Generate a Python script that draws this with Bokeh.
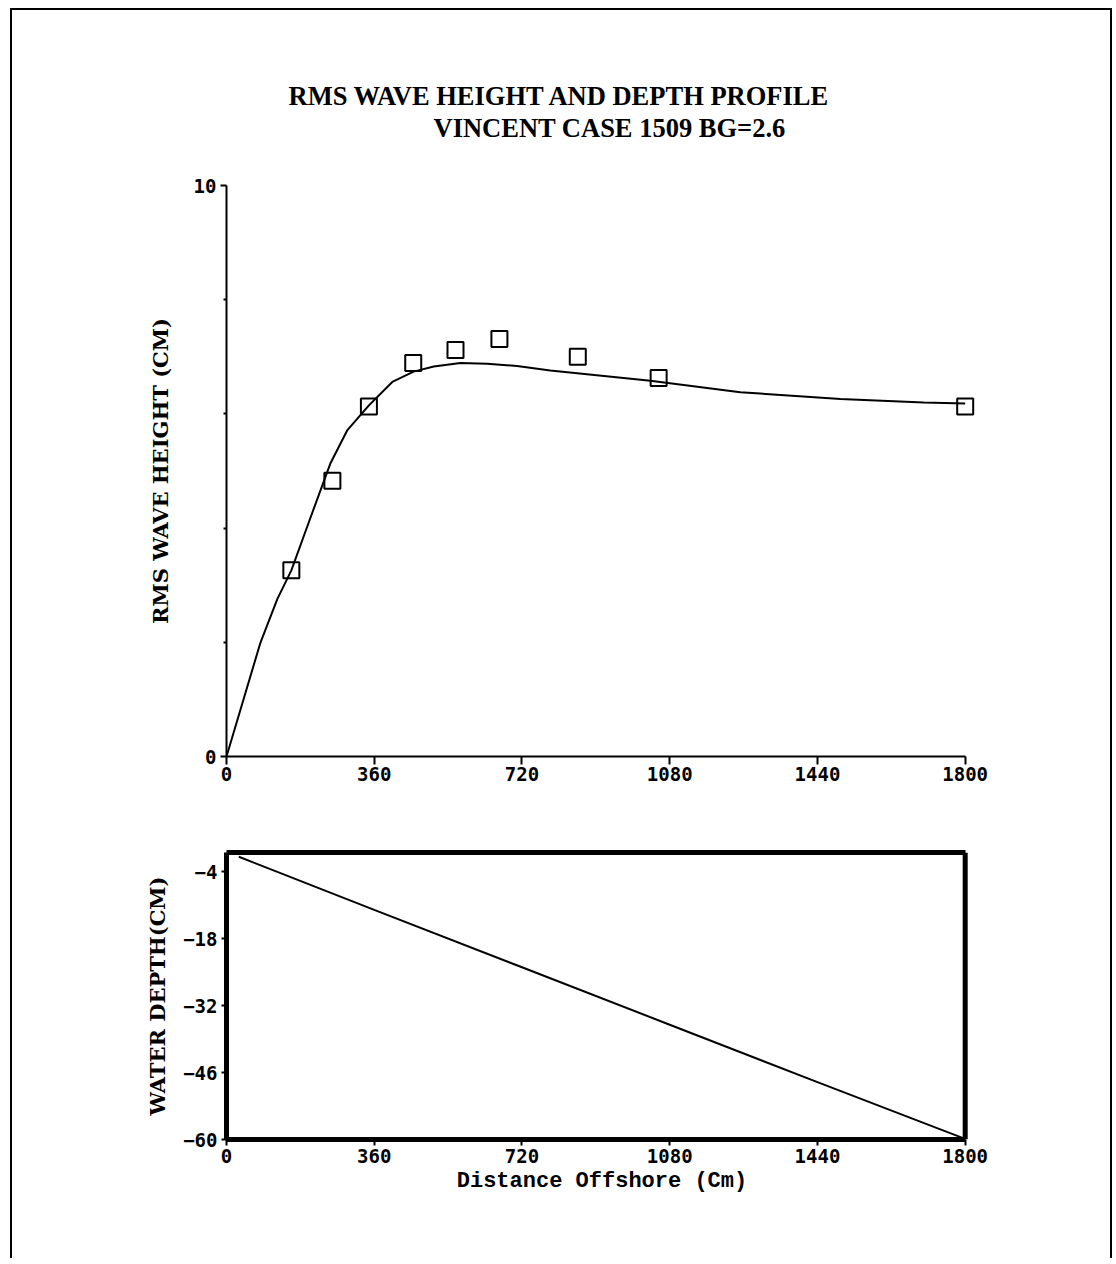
from bokeh.plotting import figure
from bokeh.models import Range1d, FixedTicker, Title, Spacer, LinearAxis, Span
from bokeh.layouts import column, row
from bokeh.embed import file_html
from bokeh.resources import INLINE

# ---- text ----
title_line1 = "RMS WAVE HEIGHT AND DEPTH PROFILE"
title_line2 = "VINCENT CASE 1509 BG=2.6"
height_label = "RMS WAVE HEIGHT (CM)"
depth_label = "WATER DEPTH(CM)"
x_label = "Distance Offshore (Cm)"

# ---- ticks ----
x_ticks = [0, 360, 720, 1080, 1440, 1800]
height_ticks = [0, 10]
height_minor_ticks = [2, 4, 6, 8]
depth_ticks = [-60, -46, -32, -18, -4]

# ---- data ----
model_x = [0, 83, 124, 158, 205, 253, 294, 347, 404, 456, 505, 570, 635, 708,
           789, 1033, 1252, 1496, 1699, 1800]
model_h = [0.0, 2.0, 2.76, 3.26, 4.19, 5.13, 5.71, 6.15, 6.56, 6.74, 6.83, 6.89,
           6.88, 6.84, 6.76, 6.58, 6.38, 6.26, 6.20, 6.18]

meas_x = [158, 258, 347, 455, 558, 665, 856, 1053, 1800]
meas_h = [3.26, 4.83, 6.13, 6.89, 7.12, 7.31, 7.00, 6.63, 6.13]

depth_x = [30, 360, 720, 1080, 1440, 1795]
depth_z = [-0.9, -12.0, -24.0, -36.0, -48.0, -59.7]

X_MAX = 1800
X_VIEW = 1830   # a little room past the last station so its marker is not clipped

SERIF = "Liberation Serif"
LSERIF = "DejaVu Serif"
MONO = "DejaVu Sans Mono"
CMONO = "Liberation Mono"

W = 1098
BL, BR = 214, 133


def style_tick_labels(ax):
    ax.major_label_text_font = MONO
    ax.major_label_text_font_style = "bold"
    ax.major_label_text_font_size = "19px"
    ax.major_label_text_color = "black"


# ---------------- top plot ----------------
p1 = figure(width=W, height=800, output_backend="svg", toolbar_location=None,
            x_range=Range1d(0, X_VIEW), y_range=Range1d(0, 10),
            min_border_left=BL, min_border_right=BR,
            min_border_top=175, min_border_bottom=54)
p1.outline_line_color = None
p1.grid.visible = False
p1.background_fill_color = "white"
p1.border_fill_color = "white"
p1.title.visible = False

p1.line(model_x, model_h, line_color="black", line_width=2)
p1.scatter(meas_x, meas_h, marker="square", size=16, fill_color=None,
           line_color="black", line_width=2)

xa = p1.xaxis[0]
xa.bounds = (0, X_MAX)
xa.ticker = FixedTicker(ticks=x_ticks)
xa.axis_line_width = 2
xa.axis_line_color = "black"
xa.major_tick_out = 8
xa.major_tick_in = 0
xa.major_tick_line_width = 2
xa.major_tick_line_color = "black"
xa.minor_tick_line_color = None
xa.major_label_standoff = 2
style_tick_labels(xa)

ya = p1.yaxis[0]
ya.ticker = FixedTicker(ticks=height_ticks, minor_ticks=height_minor_ticks)
ya.axis_line_width = 2
ya.axis_line_color = "black"
ya.major_tick_out = 6
ya.major_tick_in = 0
ya.major_tick_line_width = 2
ya.major_tick_line_color = "black"
ya.minor_tick_out = 3
ya.minor_tick_in = 0
ya.minor_tick_line_width = 2
ya.minor_tick_line_color = "black"
ya.major_label_standoff = 4
style_tick_labels(ya)
ya.axis_label = height_label
ya.axis_label_text_font = LSERIF
ya.axis_label_text_font_style = "bold"
ya.axis_label_text_font_size = "21px"
ya.axis_label_text_color = "black"
ya.axis_label_standoff = 18

# titles: first added sits nearest the frame
p1.add_layout(Title(text=" ", text_font_size="28px"), "above")
p1.add_layout(Title(text=title_line2, align="left", offset=207,
                    text_font=SERIF, text_font_style="bold",
                    text_font_size="26.5px", text_color="black",
                    standoff=0), "above")
p1.add_layout(Title(text=title_line1, align="left", offset=62,
                    text_font=SERIF, text_font_style="bold",
                    text_font_size="26.5px", text_color="black",
                    standoff=0), "above")

# ---------------- bottom plot ----------------
p2 = figure(width=W, height=448, output_backend="svg", toolbar_location=None,
            x_range=Range1d(0, X_VIEW), y_range=Range1d(-60, 0),
            min_border_left=BL, min_border_right=BR,
            min_border_top=42, min_border_bottom=119)
p2.outline_line_color = None
p2.grid.visible = False
p2.background_fill_color = "white"
p2.border_fill_color = "white"

p2.line(depth_x, depth_z, line_color="black", line_width=2)

xb = p2.xaxis[0]
xb.bounds = (0, X_MAX)
xb.ticker = FixedTicker(ticks=x_ticks)
xb.axis_line_width = 5
xb.axis_line_color = "black"
xb.major_tick_out = 6
xb.major_tick_in = 0
xb.major_tick_line_width = 2
xb.major_tick_line_color = "black"
xb.minor_tick_line_color = None
xb.major_label_standoff = 3
style_tick_labels(xb)
xb.axis_label = x_label
xb.axis_label_text_font = CMONO
xb.axis_label_text_font_style = "bold"
xb.axis_label_text_font_size = "22px"
xb.axis_label_text_color = "black"
xb.axis_label_standoff = 3

yb = p2.yaxis[0]
yb.ticker = FixedTicker(ticks=depth_ticks)
yb.axis_line_width = 5
yb.axis_line_color = "black"
yb.major_tick_out = 5
yb.major_tick_in = 0
yb.major_tick_line_width = 2
yb.major_tick_line_color = "black"
yb.minor_tick_line_color = None
yb.major_label_standoff = 4
style_tick_labels(yb)
yb.axis_label = depth_label
yb.axis_label_text_font = LSERIF
yb.axis_label_text_font_style = "bold"
yb.axis_label_text_font_size = "21px"
yb.axis_label_text_color = "black"
yb.axis_label_standoff = 10

# heavy box of the depth panel: top edge as a bare axis, right edge as a span
top_edge = LinearAxis(bounds=(0, X_MAX), ticker=FixedTicker(ticks=[]),
                      axis_line_width=5, axis_line_color="black",
                      major_tick_line_color=None, minor_tick_line_color=None,
                      major_label_text_font_size="0px")
p2.add_layout(top_edge, "above")
p2.add_layout(Span(location=X_MAX, dimension="height", line_color="black",
                   line_width=5))

inner = column(p1, p2, styles={"border-left": "2px solid black",
                               "border-top": "2px solid black",
                               "border-right": "2px solid black",
                               "background": "white"})
layout = column(Spacer(height=8), row(Spacer(width=10), inner))

open("out.html", "w").write(file_html(layout, INLINE))
